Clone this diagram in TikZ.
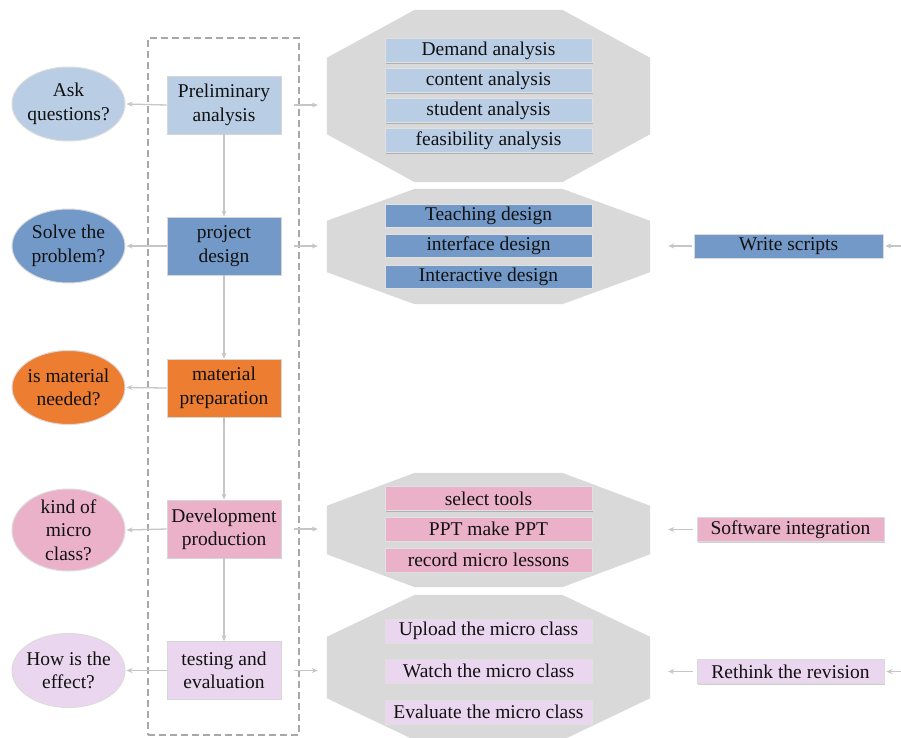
\documentclass[tikz,border=0pt]{standalone}
\usepackage{fontspec}
\setmainfont{Liberation Serif}
\usetikzlibrary{shapes.geometric,arrows.meta,calc,shadows}

\definecolor{cLight}{HTML}{B9CDE5}
\definecolor{cMid}{HTML}{7399C9}
\definecolor{cOrange}{HTML}{ED7D31}
\definecolor{cPink}{HTML}{EBB1C9}
\definecolor{cLav}{HTML}{EBD6EF}
\definecolor{cOct}{HTML}{D9D9D9}
\definecolor{cArrow}{HTML}{C6C6C6}
\definecolor{cDash}{HTML}{A8A8A8}
\definecolor{cText}{HTML}{111111}

\tikzset{
  base/.style={font=\fontsize{19.5}{23.4}\selectfont, text=cText, align=center, inner sep=0pt},
  question/.style={ellipse, minimum width=113pt, minimum height=74pt, inner sep=0pt,
    draw=black!14, line width=1pt},
  qtext/.style={label={[base]center:#1}},
  stage/.style={base, rectangle, minimum width=114pt, minimum height=58pt, draw=black!16, line width=0.8pt},
  item/.style={base, rectangle, minimum width=207pt, minimum height=24pt, draw=black!12, line width=0.6pt,
    drop shadow={shadow xshift=0.8pt, shadow yshift=-1.4pt, opacity=0.35, fill=black!60}},
  sidebox/.style={base, rectangle, minimum height=24pt, draw=black!14, line width=0.6pt,
    drop shadow={shadow xshift=0.8pt, shadow yshift=-1.4pt, opacity=0.3, fill=black!60}},
  octbound/.style={rectangle, minimum width=323pt, inner sep=0pt, draw=none},
  arr/.style={draw=cArrow, line width=1.3pt, -{Stealth[length=6pt, width=5pt]}},
}

% chamfered gray panel drawn from the corners of a named bounding node
\newcommand\panel[2]{%
  \fill[cOct] ([xshift=88pt]#1.north west) -- ([xshift=-88pt]#1.north east)
    -- ([yshift=-#2]#1.north east) -- ([yshift=#2]#1.south east)
    -- ([xshift=-88pt]#1.south east) -- ([xshift=88pt]#1.south west)
    -- ([yshift=#2]#1.south west) -- ([yshift=-#2]#1.north west) -- cycle;}

\begin{document}
\begin{tikzpicture}[x=1pt, y=-1pt]
\useasboundingbox (0,0) rectangle (901,737);
\clip (0,0) rectangle (901,737);
\fill[white] (0,0) rectangle (901,737);

% dashed frame around the main stages
\node[draw=cDash, dash pattern=on 7pt off 4pt, line width=1.2pt, rectangle,
      minimum width=151pt, minimum height=697pt, inner sep=0pt] (frame) at (223.5,386.5) {};

% gray panels
\node[octbound, minimum height=172pt] (oct1) at (488.5,96) {};
\node[octbound, minimum height=115pt] (oct2) at (488.5,246.5) {};
\node[octbound, minimum height=114pt] (oct3) at (488.5,530) {};
\node[octbound, minimum height=145pt] (oct4) at (488.5,667.5) {};
\panel{oct1}{48pt}
\panel{oct2}{32pt}
\panel{oct3}{33pt}
\panel{oct4}{42pt}

% main stages
\node[stage, fill=cLight]  (s1) at (224,105)   {Preliminary\\analysis};
\node[stage, fill=cMid]    (s2) at (224,246)   {project\\design};
\node[stage, fill=cOrange] (s3) at (224,388)   {material\\preparation};
\node[stage, fill=cPink]   (s4) at (224,529)   {Development\\production};
\node[stage, fill=cLav]    (s5) at (224,670.5) {testing and\\evaluation};

% questions
\node[question, fill=cLight,  qtext={Ask\\questions?}]       (q1) at (68.5,104)   {};
\node[question, fill=cMid,    qtext={Solve the\\problem?}]   (q2) at (68.5,246)   {};
\node[question, fill=cOrange, qtext={is material\\needed?}]  (q3) at (68.5,387.5) {};
\node[question, fill=cPink, minimum height=82pt, qtext={kind of\\micro\\class?}] (q4) at (68.5,530) {};
\node[question, fill=cLav,    qtext={How is the\\effect?}]   (q5) at (68.5,670.5) {};

% panel items
\node[item, fill=cLight] (a1) at (488.5,50.5)  {Demand analysis};
\node[item, fill=cLight] (a2) at (488.5,80.5)  {content analysis};
\node[item, fill=cLight] (a3) at (488.5,110.5) {student analysis};
\node[item, fill=cLight] (a4) at (488.5,140.5) {feasibility analysis};

\node[item, fill=cMid, minimum height=23pt] (b1) at (488.5,215.5) {Teaching design};
\node[item, fill=cMid, minimum height=23pt] (b2) at (488.5,245.5) {interface design};
\node[item, fill=cMid, minimum height=23pt] (b3) at (488.5,276.5) {Interactive design};

\node[item, fill=cPink] (c1) at (488.5,498.5) {select tools};
\node[item, fill=cPink] (c2) at (488.5,529)   {PPT make PPT};
\node[item, fill=cPink] (c3) at (488.5,560)   {record micro lessons};

\node[item, fill=cLav] (d1) at (488.5,631) {Upload the micro class};
\node[item, fill=cLav] (d2) at (488.5,671) {Watch the micro class};
\node[item, fill=cLav] (d3) at (488.5,712) {Evaluate the micro class};

% side boxes
\node[sidebox, fill=cMid,  minimum width=189pt] (w1) at (788.5,246)   {Write scripts};
\node[sidebox, fill=cPink, minimum width=187pt] (w2) at (790.5,529.5) {Software integration};
\node[sidebox, fill=cLav,  minimum width=187pt] (w3) at (790.5,671.5) {Rethink the revision};

% flow between stages
\draw[arr] (s1.south) -- (s2.north);
\draw[arr] (s2.south) -- (s3.north);
\draw[arr] (s3.south) -- (s4.north);
\draw[arr] (s4.south) -- (s5.north);

% stages to questions
\foreach \i in {1,...,5}{\draw[arr] (s\i.west) -- ($(q\i.east)+(1,0)$);}

% stages to panels
\draw[arr] ($(s1.east)+(13,0)$) -- ($(s1.east -| oct1.west)+(-9,0)$);
\draw[arr] ($(s2.east)+(13,0)$) -- ($(s2.east -| oct2.west)+(-9,0)$);
\draw[arr] ($(s4.east)+(13,0)$) -- ($(s4.east -| oct3.west)+(-9,0)$);
\draw[arr] ($(s5.east)+(13,0)$) -- ($(s5.east -| oct4.west)+(-9,0)$);

% side boxes to panels
\draw[arr] ($(w1.west)+(-2,0)$) -- ($(w1.west -| oct2.east)+(18,0)$);
\draw[arr] ($(w2.west)+(-4,0)$) -- ($(w2.west -| oct3.east)+(18,0)$);
\draw[arr] ($(w3.west)+(-4,0)$) -- ($(w3.west -| oct4.east)+(18,0)$);

% incoming feedback from the right
\coordinate (in1) at (905,246);
\coordinate (in3) at (905,671.5);
\draw[arr] (in1) -- ($(w1.east)+(2,0)$);
\draw[arr] (in3) -- ($(w3.east)+(2,0)$);
\end{tikzpicture}
\end{document}
